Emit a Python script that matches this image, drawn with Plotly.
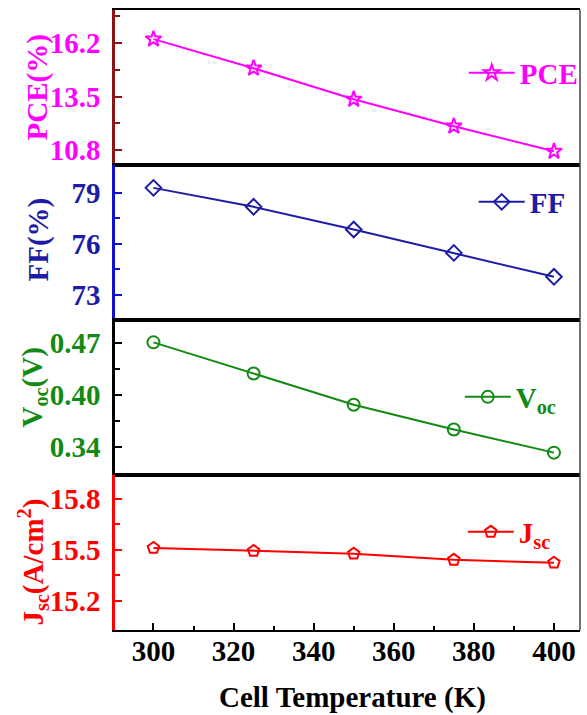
import plotly.graph_objects as go

# Temperature sweep and device parameters
temperature = [300, 325, 350, 375, 400]
pce = [16.40, 14.93, 13.36, 12.00, 10.73]
ff = [79.28, 78.17, 76.84, 75.47, 74.07]
voc = [0.471, 0.432, 0.393, 0.362, 0.333]
jsc = [15.512, 15.494, 15.478, 15.442, 15.425]

x_ticks = [300, 320, 340, 360, 380, 400]
x_minor = [290, 310, 330, 350, 370, 390]
pce_ticks = [10.8, 13.5, 16.2]
pce_minor = [12.15, 14.85, 17.55]
ff_ticks = [73, 76, 79]
ff_minor = [74.5, 77.5]
voc_ticks = [0.34, 0.405, 0.47]
voc_ticktext = ["0.34", "0.40", "0.47"]
voc_minor = [0.3725, 0.4375]
jsc_ticks = [15.2, 15.5, 15.8]
jsc_minor = [15.35, 15.65]

FONT = "Liberation Serif, Times New Roman, Times, serif"
FS = 29

panels = [
    dict(y=pce, color="#ff00ff", axis="#8b1414", symbol="star-open",
         title="PCE(%)", rng=[10.04, 17.87], ticks=pce_ticks,
         text=[str(v) for v in pce_ticks], minor=pce_minor,
         name="PCE", domain=[0.75, 1.0], leg=(466, 73), tpos=(36, 88)),
    dict(y=ff, color="#1c1ca6", axis="#1010d0", symbol="diamond-open",
         title="FF(%)", rng=[71.54, 80.62], ticks=ff_ticks,
         text=[str(v) for v in ff_ticks], minor=ff_minor,
         name="FF", domain=[0.5, 0.75], leg=(476, 202), tpos=(37, 240)),
    dict(y=voc, color="#138a13", axis="#000000", symbol="circle-open",
         title="V<sub>oc</sub>(V)", rng=[0.305, 0.499], ticks=voc_ticks,
         text=voc_ticktext, minor=voc_minor,
         name="V<sub>oc</sub>", domain=[0.25, 0.5], leg=(462, 397),
         tpos=(33, 388)),
    dict(y=jsc, color="#ff0000", axis="#ff0000", symbol="pentagon-open",
         title="J<sub>sc</sub>(A/cm<sup>2</sup>)", rng=[15.03, 15.94],
         ticks=jsc_ticks, text=[str(v) for v in jsc_ticks], minor=jsc_minor,
         name="J<sub>sc</sub>", domain=[0.0, 0.25], leg=(465, 532),
         tpos=(32, 562)),
]

W, H = 587, 715
ML, MR, MT, MB = 115, 4, 10, 85
PW, PH = W - ML - MR, H - MT - MB


def px_to_paper(px, py):
    return (px - ML) / PW, (H - MB - py) / PH


fig = go.Figure()
layout = dict(
    width=W, height=H,
    margin=dict(l=ML, r=MR, t=MT, b=MB),
    paper_bgcolor="white", plot_bgcolor="white",
    font=dict(family=FONT, size=FS, color="black"),
    showlegend=True,
)
annotations = []

for i, p in enumerate(panels, start=1):
    sfx = "" if i == 1 else str(i)
    leg = "legend" if i == 1 else f"legend{i}"
    fig.add_trace(go.Scatter(
        x=temperature, y=p["y"], name=p["name"],
        xaxis=f"x{sfx}", yaxis=f"y{sfx}", legend=leg, showlegend=True,
        mode="lines+markers",
        line=dict(color=p["color"], width=2),
        marker=dict(symbol=p["symbol"], size=12, color=p["color"],
                    line=dict(width=2, color=p["color"])),
    ))
    bottom = i == len(panels)
    layout[f"xaxis{sfx}"] = dict(
        anchor=f"y{sfx}", domain=[0, 1], range=[290.4, 406.5],
        showline=True, linecolor="black", linewidth=2, mirror=True,
        showgrid=False, zeroline=False,
        showticklabels=bottom,
        ticks="inside" if bottom else "",
        tickmode="array", tickvals=x_ticks, ticklen=7, tickwidth=2,
        tickcolor="black", ticklabelstandoff=-6,
        tickfont=dict(family=FONT, size=FS, color="black", weight="bold"),
        minor=dict(tickmode="array", tickvals=x_minor,
                   ticks="inside" if bottom else "", ticklen=4,
                   tickwidth=2, tickcolor="black"),
    )
    layout[f"yaxis{sfx}"] = dict(
        anchor=f"x{sfx}", domain=p["domain"], range=p["rng"],
        showline=True, linecolor=p["axis"], linewidth=2.5,
        showgrid=False, zeroline=False,
        ticks="inside", ticklen=7, tickwidth=2, tickcolor=p["axis"],
        tickmode="array", tickvals=p["ticks"], ticktext=p["text"],
        ticklabelstandoff=6,
        tickfont=dict(family=FONT, size=FS, color=p["color"], weight="bold"),
        minor=dict(tickmode="array", tickvals=p["minor"], ticks="inside",
                   ticklen=5, tickwidth=2, tickcolor=p["axis"]),
    )
    # rotated axis title
    tx, ty = px_to_paper(*p["tpos"])
    annotations.append(dict(
        text=p["title"], xref="paper", yref="paper", x=tx, y=ty,
        xanchor="center", yanchor="middle", textangle=-90, showarrow=False,
        font=dict(family=FONT, size=FS, color=p["color"], weight="bold"),
    ))
    lx, ly = px_to_paper(*p["leg"])
    layout[leg] = dict(
        x=lx, y=ly, xanchor="left", yanchor="middle",
        bgcolor="rgba(0,0,0,0)", borderwidth=0, itemwidth=46,
        font=dict(family=FONT, size=FS, color=p["color"], weight="bold"),
    )

# x-axis title below the bottom panel
xt_x, xt_y = px_to_paper(354, 697)
annotations.append(dict(
    text="Cell Temperature (K)", xref="paper", yref="paper",
    x=xt_x, y=xt_y, xanchor="center", yanchor="middle", showarrow=False,
    font=dict(family=FONT, size=FS, color="black", weight="bold"),
))

layout["annotations"] = annotations
# right-hand frame edge
layout["shapes"] = [dict(type="line", xref="paper", yref="paper",
                         x0=1, x1=1, y0=0, y1=1,
                         line=dict(color="#444444", width=1.5))]

fig.update_layout(**layout)
fig.write_html("out.html")
